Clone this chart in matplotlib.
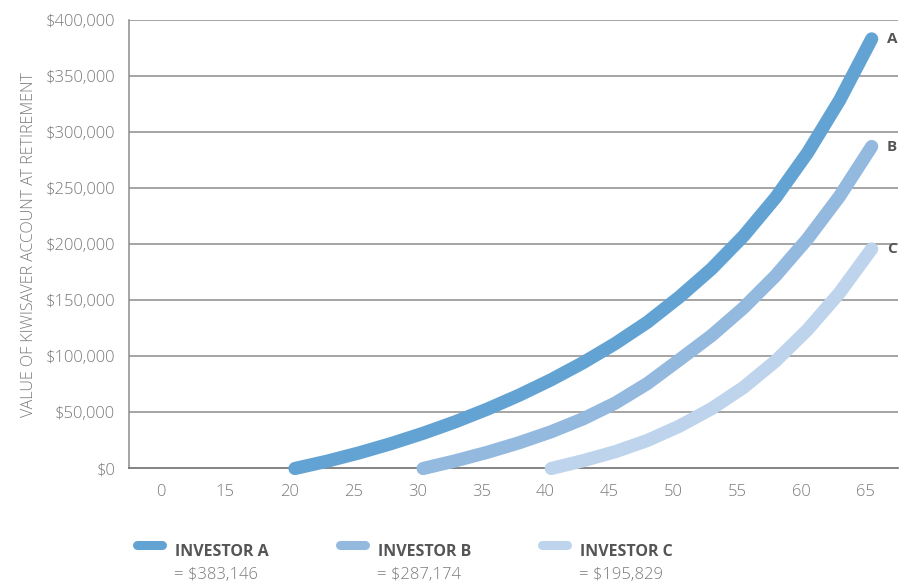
import matplotlib
matplotlib.use("Agg")
import matplotlib.pyplot as plt
from matplotlib.lines import Line2D

# x axis is categorical: labels are evenly spaced even though 0 -> 15 jumps
tick_labels = ["0", "15", "20", "25", "30", "35", "40", "45", "50", "55", "60", "65"]

# account value (thousands of $), by age
ages_a = [20, 22.5, 25, 27.5, 30, 32.5, 35, 37.5, 40, 42.5, 45, 47.5, 50, 52.5, 55, 57.5, 60, 62.5, 65]
vals_a = [0, 6.5, 13.9, 22.2, 31.4, 41.6, 52.9, 65.4, 79.2, 94.5, 111.5, 130.5, 153, 178, 207.3, 241.5, 281.6, 328.5, 383.146]

ages_b = [30, 32.5, 35, 37.5, 40, 42.5, 45, 47.5, 50, 52.5, 55, 57.5, 60, 62.5, 65]
vals_b = [0, 6.8, 14.4, 23.0, 32.8, 44.4, 58.4, 75.8, 97, 118.5, 143.3, 171.9, 204.9, 242.9, 287.174]

ages_c = [40, 42.5, 45, 47.5, 50, 52.5, 55, 57.5, 60, 62.5, 65]
vals_c = [0, 7, 15, 25, 37.8, 53.3, 72.3, 95.8, 123.8, 156.8, 195.829]

series = [
    ("A", "INVESTOR A", "= $383,146", ages_a, vals_a, "#63a3d3"),
    ("B", "INVESTOR B", "= $287,174", ages_b, vals_b, "#94b9df"),
    ("C", "INVESTOR C", "= $195,829", ages_c, vals_c, "#bdd4ec"),
]

plt.rcParams["font.family"] = ["Open Sans", "DejaVu Sans"]
grey = "#7a7a7a"
dark = "#555555"


def age_pos(age):
    # age 20 sits on category index 2, then 5 years per category
    return 2 + (age - 20) / 5.0 + 0.09


fig = plt.figure(figsize=(9.12, 5.83), dpi=100)
ax = fig.add_axes([0.1414, 0.1964, 0.8432, 0.7693])

for k, (short, name, total, ages, vals, col) in enumerate(series):
    xs = [age_pos(a) for a in ages]
    ys = [v * 1000 for v in vals]
    ax.plot(xs, ys, color=col, lw=9.5, solid_capstyle="round",
            solid_joinstyle="round", clip_on=False, zorder=3 + k)
    ax.annotate(short, (xs[-1], ys[-1]), xytext=(11, 0), textcoords="offset points",
                ha="left", va="center", fontsize=11, fontweight="bold", color=dark)

ax.set_xlim(-0.5, 11.5)
ax.set_ylim(0, 400000)
ax.set_xticks(range(len(tick_labels)))
ax.set_xticklabels(tick_labels)
yt = list(range(0, 400001, 50000))
ax.set_yticks(yt)
ax.set_yticklabels(["${:,}".format(v) for v in yt])
ax.tick_params(length=0, labelsize=12, labelcolor=grey)
ax.tick_params(axis="y", pad=10)
ax.tick_params(axis="x", pad=11)
for lab in ax.get_xticklabels() + ax.get_yticklabels():
    lab.set_fontweight("light")

for v in yt[1:]:
    ax.axhline(v, color="#8c8c8c", lw=1.1, zorder=1)

for s in ["top", "right"]:
    ax.spines[s].set_visible(False)
ax.spines["left"].set_color("#8c8c8c")
ax.spines["left"].set_linewidth(1.1)
ax.spines["bottom"].set_color("#6e6e6e")
ax.spines["bottom"].set_linewidth(1.2)

ax.set_ylabel("VALUE OF KIWISAVER ACCOUNT AT RETIREMENT", fontsize=11.5, color=grey,
              labelpad=6, fontweight="light")

# legend drawn by hand along the bottom
W, H = 912.0, 583.0
handle_x = [137, 340, 542]
for k, (short, name, total, ages, vals, col) in enumerate(series):
    x0 = handle_x[k]
    fig.add_artist(Line2D([x0 / W, (x0 + 25) / W], [1 - 545 / H, 1 - 545 / H],
                          color=col, lw=6.5, solid_capstyle="round"))
    fig.text((x0 + 38) / W, 1 - 552 / H, name, fontsize=11.5, fontweight="bold",
             color=dark, va="center", ha="left")
    fig.text((x0 + 37) / W, 1 - 575 / H, total, fontsize=12, color=grey,
             va="center", ha="left", fontweight="light")

fig.savefig("out.png", dpi=100)
